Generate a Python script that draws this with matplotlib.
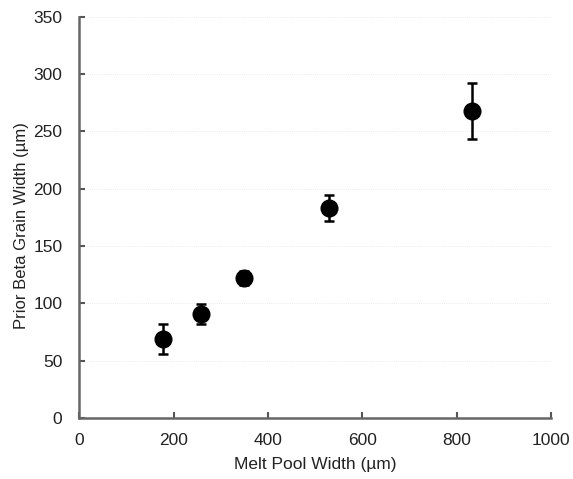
import matplotlib
matplotlib.use("Agg")
import matplotlib.pyplot as plt
import numpy as np

plt.rcParams['font.family'] = ['Liberation Sans', 'DejaVu Sans']

melt_pool_width = [178, 258, 350, 530, 833]
grain_width = [69, 91, 122, 183, 268]
grain_err = [13, 8.5, 6, 11.5, 24.5]

fig = plt.figure(figsize=(5.73, 4.79), dpi=100)
ax = fig.add_axes([0.138, 0.127, 0.824, 0.838])

for yv in np.arange(50, 351, 50):
    ax.axhline(yv, color='#e6e6e6', lw=0.6, ls=(0, (1, 1.5)), zorder=0)

ax.errorbar(melt_pool_width, grain_width, yerr=grain_err, fmt='o', color='black',
            markersize=12, ecolor='black', elinewidth=1.8, capsize=3.7, capthick=1.8, zorder=3)

ax.set_xlim(0, 1000)
ax.set_ylim(0, 350)
ax.set_xticks(np.arange(0, 1001, 200))
ax.set_yticks(np.arange(0, 351, 50))

for s in ['top', 'right']:
    ax.spines[s].set_visible(False)
for s in ['left', 'bottom']:
    ax.spines[s].set_color('#666666')
    ax.spines[s].set_linewidth(1.8)

ax.tick_params(axis='both', direction='in', length=4, width=1.5, color='#555555',
               labelsize=12.5, labelcolor='#222222')
ax.tick_params(axis='x', pad=11)
ax.tick_params(axis='y', pad=12)

ax.set_xlabel('Melt Pool Width (µm)', fontsize=12.5, color='#222222', labelpad=6)
ax.set_ylabel('Prior Beta Grain Width (µm)', fontsize=12, color='#222222', labelpad=6)
ax.yaxis.set_label_coords(-0.105, 0.48)

fig.savefig('out.png', dpi=100)
